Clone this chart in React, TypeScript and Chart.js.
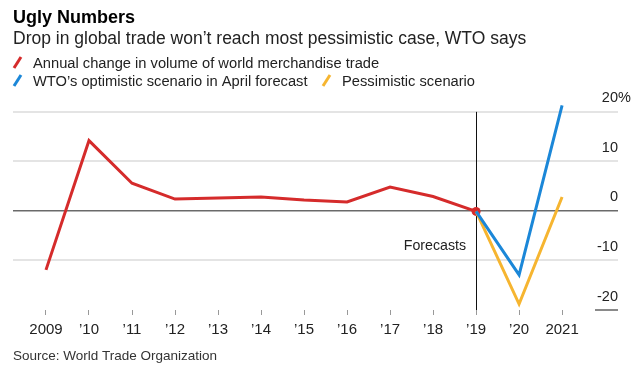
import React, { useEffect, useRef } from 'react';
import { Chart, registerables } from 'chart.js';

Chart.register(...registerables);

const years = [2009, 2010, 2011, 2012, 2013, 2014, 2015, 2016, 2017, 2018, 2019, 2020, 2021];
const tickLabels = ['2009', '\u201910', '\u201911', '\u201912', '\u201913', '\u201914', '\u201915', '\u201916', '\u201917', '\u201918', '\u201919', '\u201920', '2021'];

const tradeYears = [2009, 2010, 2011, 2012, 2013, 2014, 2015, 2016, 2017, 2018, 2019];
const tradeVolume = [-11.9, 14.2, 5.6, 2.4, 2.6, 2.8, 2.2, 1.8, 4.8, 2.9, -0.1];

const forecastYears = [2019, 2020, 2021];
const optimistic = [-0.1, -12.9, 21.3];
const pessimistic = [-0.1, -18.8, 2.8];

const yTicks = [-20, -10, 0, 10, 20];

const seriesNames = [
  'Annual change in volume of world merchandise trade',
  'WTO\u2019s optimistic scenario in April forecast',
  'Pessimistic scenario',
];
const seriesColors = ['#d52b2b', '#1b87d8', '#f6b530'];

const titleText = 'Ugly Numbers';
const subtitleText = 'Drop in global trade won\u2019t reach most pessimistic case, WTO says';
const sourceText = 'Source: World Trade Organization';
const forecastLabel = 'Forecasts';
const forecastStart = 2019;
const forecastLabelValue = -7.1;

const FONT = "'Liberation Sans', Arial, Helvetica, sans-serif";

const textPlugin = {
  id: 'textPlugin',
  beforeDatasetsDraw(chart: any) {
    const { ctx, scales } = chart;
    const x = scales.x.getPixelForValue(forecastStart);
    const yTop = scales.y.getPixelForValue(20);
    const yBot = chart.chartArea.bottom;
    ctx.save();
    ctx.strokeStyle = '#111';
    ctx.lineWidth = 1;
    ctx.beginPath();
    ctx.moveTo(Math.round(x) + 0.5, yTop);
    ctx.lineTo(Math.round(x) + 0.5, yBot);
    ctx.stroke();
    ctx.restore();
  },
  afterDraw(chart: any) {
    const { ctx, scales, chartArea } = chart;
    ctx.save();
    ctx.textBaseline = 'alphabetic';
    ctx.textAlign = 'left';
    // title
    ctx.fillStyle = '#000';
    ctx.font = `bold 18px ${FONT}`;
    ctx.fillText(titleText, 13, 23);
    ctx.fillStyle = '#222';
    ctx.font = `17.5px ${FONT}`;
    ctx.fillText(subtitleText, 13, 43.5);

    // legend
    const slash = (x: number, yc: number, color: string) => {
      ctx.save();
      ctx.strokeStyle = color;
      ctx.lineWidth = 3;
      ctx.beginPath();
      ctx.moveTo(x, yc + 5);
      ctx.lineTo(x + 7, yc - 6);
      ctx.stroke();
      ctx.restore();
    };
    ctx.font = `14.7px ${FONT}`;
    ctx.fillStyle = '#222';
    slash(14, 63, seriesColors[0]);
    ctx.fillText(seriesNames[0], 33, 68);
    slash(14, 81, seriesColors[1]);
    ctx.fillText(seriesNames[1], 33, 86);
    slash(323, 81, seriesColors[2]);
    ctx.fillText(seriesNames[2], 342, 86);

    // y labels
    const right = chartArea.right;
    ctx.font = `14.5px ${FONT}`;
    ctx.fillStyle = '#222';
    ctx.textBaseline = 'middle';
    yTicks.forEach((v) => {
      const y = scales.y.getPixelForValue(v) - 13.5;
      ctx.textAlign = 'right';
      ctx.fillText(String(v), right, y);
      if (v === yTicks[yTicks.length - 1]) {
        ctx.textAlign = 'left';
        ctx.fillText('%', right, y);
      }
    });
    // short bottom line under -20 label
    const yb = scales.y.getPixelForValue(yTicks[0]);
    ctx.strokeStyle = '#8a8a8a';
    ctx.lineWidth = 2;
    ctx.beginPath();
    ctx.moveTo(right - 23, yb);
    ctx.lineTo(right, yb);
    ctx.stroke();

    // forecasts label
    ctx.textAlign = 'right';
    ctx.fillStyle = '#222';
    ctx.font = `14.2px ${FONT}`;
    ctx.fillText(forecastLabel, scales.x.getPixelForValue(forecastStart) - 10, scales.y.getPixelForValue(forecastLabelValue));

    // source
    ctx.textAlign = 'left';
    ctx.textBaseline = 'alphabetic';
    ctx.font = `13.5px ${FONT}`;
    ctx.fillStyle = '#333';
    ctx.fillText(sourceText, 13, 360);
    ctx.restore();
  },
};

export default function App() {
  const ref = useRef<HTMLCanvasElement | null>(null);
  useEffect(() => {
    document.body.style.margin = '0';
    const canvas = ref.current;
    if (!canvas) return;
    const chart = new Chart(canvas, {
      type: 'line',
      data: {
        datasets: [
          {
            label: seriesNames[1],
            data: forecastYears.map((x, i) => ({ x, y: optimistic[i] })),
            borderColor: seriesColors[1],
            borderWidth: 3,
            pointRadius: 0,
            tension: 0,
          },
          {
            label: seriesNames[2],
            data: forecastYears.map((x, i) => ({ x, y: pessimistic[i] })),
            borderColor: seriesColors[2],
            borderWidth: 3,
            pointRadius: 0,
            tension: 0,
          },
          {
            label: seriesNames[0],
            data: tradeYears.map((x, i) => ({ x, y: tradeVolume[i] })),
            borderColor: seriesColors[0],
            backgroundColor: seriesColors[0],
            borderWidth: 3,
            pointRadius: (c: any) => (c.dataIndex === tradeYears.length - 1 ? 4.5 : 0),
            pointBorderWidth: 0,
            tension: 0,
          },
        ],
      },
      options: {
        responsive: false,
        animation: false,
        devicePixelRatio: 1,
        layout: { padding: { top: 97, left: 13, right: 24, bottom: 0 } },
        plugins: { legend: { display: false }, tooltip: { enabled: false }, title: { display: false } },
        scales: {
          x: {
            type: 'linear',
            min: 2008.233,
            max: 2022.3,
            border: { display: false },
            grid: { display: true, drawOnChartArea: false, drawTicks: true, tickLength: 5, color: '#999', lineWidth: 1 },
            afterBuildTicks: (s: any) => {
              s.ticks = years.map((v) => ({ value: v }));
            },
            afterFit: (s: any) => {
              s.height = 57;
            },
            ticks: {
              autoSkip: false,
              maxRotation: 0,
              padding: 6,
              color: '#222',
              font: { family: FONT, size: 15 },
              callback: (v: any) => tickLabels[years.indexOf(Number(v))] ?? '',
            },
          },
          y: {
            type: 'linear',
            position: 'right',
            min: -20,
            max: 23,
            border: { display: false },
            afterBuildTicks: (s: any) => {
              s.ticks = yTicks.map((v) => ({ value: v }));
            },
            afterFit: (s: any) => {
              s.width = 0;
            },
            ticks: { display: false },
            grid: {
              drawTicks: false,
              color: (c: any) => (c.tick && c.tick.value === 0 ? '#6a6a6a' : c.tick && c.tick.value === -20 ? 'rgba(0,0,0,0)' : '#e4e4e4'),
              lineWidth: (c: any) => (c.tick && c.tick.value === 0 ? 1.5 : 2),
            },
          },
        },
      },
      plugins: [textPlugin],
    } as any);
    return () => chart.destroy();
  }, []);
  return (
    <div style={{ width: 642, height: 367, background: '#fff' }}>
      <canvas ref={ref} width={642} height={367} style={{ display: 'block' }} />
    </div>
  );
}
